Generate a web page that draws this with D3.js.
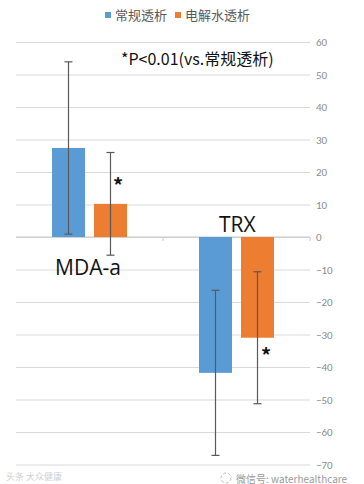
<!DOCTYPE html>
<html>
<head>
<meta charset="utf-8">
<script src="https://cdn.jsdelivr.net/npm/d3@7"></script>
<style>
  body { margin: 0; background: #fff; }
  svg { display: block; font-family: "Noto Sans CJK SC", "Noto Sans", sans-serif; }
</style>
</head>
<body>
<div id="chart"></div>
<script>
// data
var categories = ["MDA-a", "TRX"];
var series = ["常规透析", "电解水透析"];
var colors = ["#5b9bd5", "#ed7d31"];
var means = [[27.4, 10.2], [-41.8, -31.0]];   // [category][series]
var errors = [[26.5, 15.8], [25.4, 20.3]];
var yTicks = [60, 50, 40, 30, 20, 10, 0, -10, -20, -30, -40, -50, -60, -70];

var width = 364, height = 484;
var svg = d3.select("#chart").append("svg")
  .attr("width", width)
  .attr("height", height);

var y = d3.scaleLinear().domain([-70, 60]).range([464.5, 42]);
var x0 = d3.scaleBand().domain(categories).range([16, 310]).padding(0);
var x1 = d3.scaleBand().domain(series)
  .range([36, x0.bandwidth() - 36]).paddingInner(0.2143);

// gridlines + right labels
var axis = svg.append("g")
  .attr("transform", "translate(310,0)")
  .call(d3.axisRight(y).tickValues(yTicks).tickSize(-294).tickPadding(6)
    .tickFormat(d3.format("d")));
axis.select(".domain").remove();
axis.selectAll(".tick line").attr("stroke", "#d9d9d9");
axis.selectAll(".tick text")
  .attr("fill", "#8c8c8c")
  .style("font-size", "11px")
  .style("font-family", "Calibri, Carlito, 'Open Sans', sans-serif");

// zero line with small ticks
svg.append("line")
  .attr("x1", 16).attr("x2", 310)
  .attr("y1", y(0)).attr("y2", y(0))
  .attr("stroke", "#c8c8c8");
[x0("TRX"), 310].forEach(function(px) {
  svg.append("line")
    .attr("x1", px).attr("x2", px)
    .attr("y1", y(0)).attr("y2", y(0) + 4)
    .attr("stroke", "#c8c8c8");
});

// bars
var groups = svg.selectAll(".cat")
  .data(categories)
  .enter().append("g")
  .attr("class", "cat")
  .attr("transform", function(d) { return "translate(" + x0(d) + ",0)"; });

groups.selectAll("rect")
  .data(function(d, i) {
    return series.map(function(s, j) {
      return { s: s, v: means[i][j], e: errors[i][j], c: colors[j] };
    });
  })
  .enter().append("rect")
  .attr("x", function(d) { return x1(d.s); })
  .attr("width", x1.bandwidth())
  .attr("y", function(d) { return y(Math.max(0, d.v)); })
  .attr("height", function(d) { return Math.abs(y(d.v) - y(0)); })
  .attr("fill", function(d) { return d.c; });

// error bars
var eb = groups.selectAll(".err")
  .data(function(d, i) {
    return series.map(function(s, j) {
      return { s: s, v: means[i][j], e: errors[i][j] };
    });
  })
  .enter().append("g")
  .attr("class", "err")
  .attr("stroke", "#595959")
  .attr("stroke-width", 1.2);

eb.append("line")
  .attr("x1", function(d) { return x1(d.s) + x1.bandwidth() / 2; })
  .attr("x2", function(d) { return x1(d.s) + x1.bandwidth() / 2; })
  .attr("y1", function(d) { return y(d.v + d.e); })
  .attr("y2", function(d) { return y(d.v - d.e); });
[1, -1].forEach(function(sign) {
  eb.append("line")
    .attr("x1", function(d) { return x1(d.s) + x1.bandwidth() / 2 - 4; })
    .attr("x2", function(d) { return x1(d.s) + x1.bandwidth() / 2 + 4; })
    .attr("y1", function(d) { return y(d.v + sign * d.e); })
    .attr("y2", function(d) { return y(d.v + sign * d.e); });
});

// category labels
svg.append("text").attr("x", 55).attr("y", 275)
  .style("font-size", "21px").attr("fill", "#111")
  .style("font-family", "'Open Sans', sans-serif")
  .text("MDA-a");
svg.append("text").attr("x", 219).attr("y", 232)
  .style("font-size", "21px").attr("fill", "#111")
  .style("font-family", "'Open Sans', sans-serif")
  .text("TRX");

// significance marks
svg.append("text").attr("x", 113).attr("y", 193)
  .style("font-size", "20px").style("font-weight", "bold").attr("fill", "#111")
  .text("*");
svg.append("text").attr("x", 261).attr("y", 363)
  .style("font-size", "20px").style("font-weight", "bold").attr("fill", "#111")
  .text("*");
svg.append("text").attr("x", 121).attr("y", 65)
  .style("font-size", "16px").attr("fill", "#111")
  .text("*P<0.01(vs.常规透析)");

// legend
var legend = svg.append("g").attr("transform", "translate(105,15)");
var lx = [0, 70];
series.forEach(function(s, i) {
  legend.append("rect")
    .attr("x", lx[i]).attr("y", -3)
    .attr("width", 6).attr("height", 6)
    .attr("fill", colors[i]);
  legend.append("text")
    .attr("x", lx[i] + 10).attr("y", 5)
    .style("font-size", "13px").attr("fill", "#595959")
    .text(s);
});

// watermarks
svg.append("text").attr("x", 236).attr("y", 482.5)
  .style("font-size", "10px").attr("fill", "#9a9a9a")
  .text("微信号: waterhealthcare");
svg.append("circle").attr("cx", 226).attr("cy", 478).attr("r", 5)
  .attr("fill", "none").attr("stroke", "#bbb").attr("stroke-dasharray", "3,2");
svg.append("text").attr("x", 6).attr("y", 480)
  .style("font-size", "9px").attr("fill", "#d0d0d0")
  .text("头条 大众健康");
</script>
</body>
</html>
